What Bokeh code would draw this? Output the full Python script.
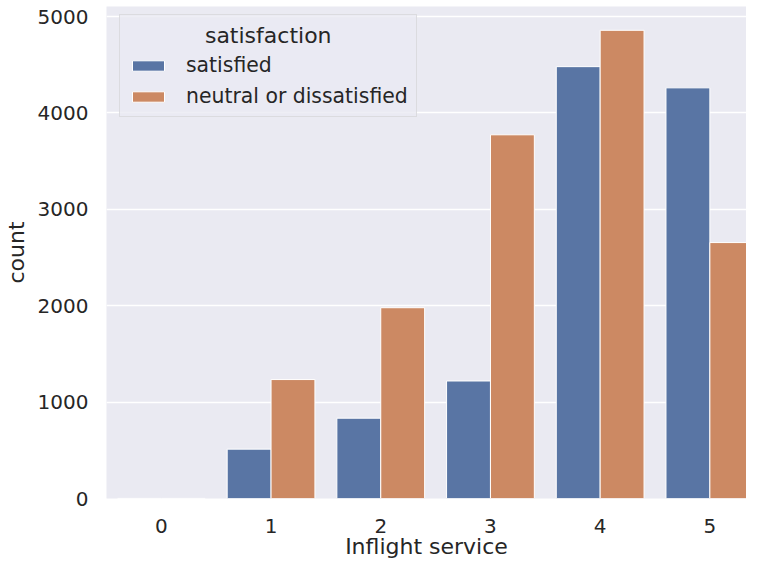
import numpy as np
from bokeh.plotting import figure
from bokeh.models import ColumnDataSource, Range1d, FixedTicker, Legend, LegendItem
from bokeh.embed import file_html
from bokeh.resources import INLINE

# ---- data ----
categories = ["0", "1", "2", "3", "4", "5"]
satisfied = [1, 512, 833, 1219, 4480, 4260]
neutral_or_dissatisfied = [1, 1234, 1979, 3773, 4857, 2655]
hue_labels = ["satisfied", "neutral or dissatisfied"]
y_ticks = [0, 1000, 2000, 3000, 4000, 5000]

FONT = "DejaVu Sans"
TXT = "#262626"
BLUE = "#5975a4"
ORANGE = "#cc8963"

pos = np.arange(len(categories))

p = figure(width=746, height=561, output_backend="svg", toolbar_location=None,
           x_range=Range1d(-0.5, 5.334), y_range=Range1d(0, 5104),
           min_border_left=100, min_border_right=0, min_border_top=6, min_border_bottom=62,
           background_fill_color="#eaeaf2", border_fill_color="white", outline_line_color=None)

src_s = ColumnDataSource(dict(x=pos - 0.2, top=satisfied))
src_n = ColumnDataSource(dict(x=pos + 0.2, top=neutral_or_dissatisfied))
r1 = p.vbar(x="x", top="top", width=0.4, bottom=0, source=src_s,
            fill_color=BLUE, line_color="white", line_width=1)
r2 = p.vbar(x="x", top="top", width=0.4, bottom=0, source=src_n,
            fill_color=ORANGE, line_color="white", line_width=1)

p.xgrid.grid_line_color = None
p.ygrid.grid_line_color = "white"
p.ygrid.grid_line_width = 1.4
p.ygrid.level = "underlay"

p.xaxis.ticker = FixedTicker(ticks=list(pos))
p.xaxis.major_label_overrides = {int(i): c for i, c in zip(pos, categories)}
p.yaxis.ticker = FixedTicker(ticks=y_ticks)

for ax in (p.xaxis, p.yaxis):
    ax.axis_line_color = None
    ax.major_tick_line_color = None
    ax.minor_tick_line_color = None
    ax.major_tick_out = 0
    ax.major_tick_in = 0
    ax.major_label_text_font = FONT
    ax.major_label_text_font_size = "20px"
    ax.major_label_text_color = TXT
    ax.axis_label_text_font = FONT
    ax.axis_label_text_font_size = "22px"
    ax.axis_label_text_font_style = "normal"
    ax.axis_label_text_color = TXT

p.xaxis.axis_label = "Inflight service"
p.yaxis.axis_label = "count"
p.xaxis.major_label_standoff = 20
p.yaxis.major_label_standoff = 18
p.xaxis.axis_label_standoff = -2
p.yaxis.axis_label_standoff = 6

NB = "\u00a0"
legend = Legend(items=[LegendItem(label=hue_labels[0], renderers=[r1]),
                       LegendItem(label=hue_labels[1], renderers=[r2])],
                location=(13, 381), title=NB * 11 + "satisfaction")
legend.margin = 0
legend.padding = 8
legend.spacing = 7
legend.glyph_width = 40
legend.glyph_height = 13
legend.label_standoff = 18
legend.label_text_font = FONT
legend.label_text_font_size = "20.4px"
legend.label_text_color = TXT
legend.title_text_font = FONT
legend.title_text_font_size = "22px"
legend.title_text_font_style = "normal"
legend.title_text_color = TXT
legend.title_location = "above"
legend.background_fill_color = "#eaeaf2"
legend.background_fill_alpha = 0.8
legend.border_line_color = "#cccccc"
legend.border_line_width = 1
p.add_layout(legend)

open("out.html", "w").write(file_html(p, INLINE))
